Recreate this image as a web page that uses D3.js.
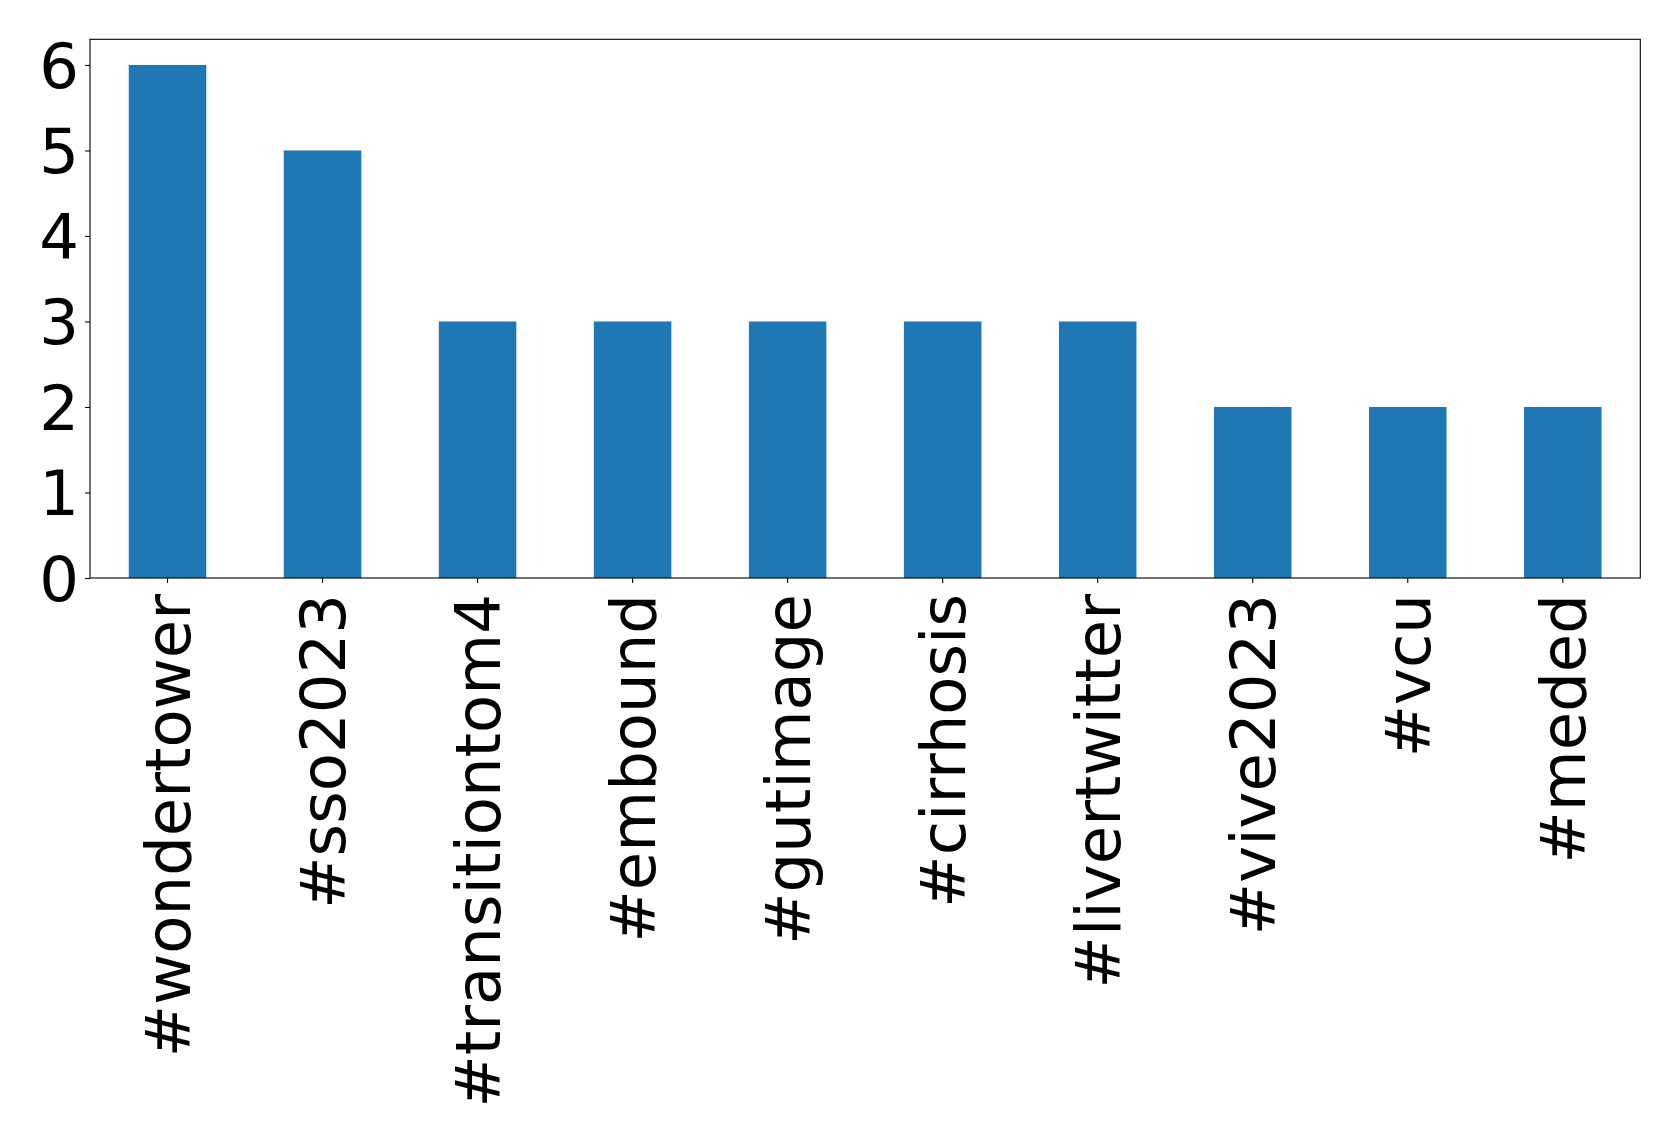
<!DOCTYPE html>
<html><head><meta charset="utf-8">
<script src="https://cdn.jsdelivr.net/npm/d3@7"></script>
<style>body{margin:0;background:#fff}</style>
</head><body>
<svg id="c" width="1679" height="1141"></svg>
<script>
const categories = ["#wondertower","#sso2023","#transitiontom4","#embound","#gutimage","#cirrhosis","#livertwitter","#vive2023","#vcu","#meded"];
const counts = [6,5,3,3,3,3,3,2,2,2];
const yTicks = [0,1,2,3,4,5,6];

const svg = d3.select("#c");
const L = 90, T = 39.3, R = 1640.3, B = 578;
const font = "DejaVu Sans, sans-serif";
const fs = 62.5;

const x = d3.scaleBand().domain(categories).range([L, R]).paddingInner(0.5).paddingOuter(0.25);
const y = d3.scaleLinear().domain([0, 6.3]).range([B, T]);

svg.selectAll("rect.bar").data(counts).enter().append("rect")
  .attr("class","bar")
  .attr("x",(d,i)=>x(categories[i]))
  .attr("width",x.bandwidth())
  .attr("y",d=>y(d))
  .attr("height",d=>B-y(d))
  .attr("fill","#1f77b4");

const yAxis = svg.append("g").attr("transform",`translate(${L},0)`)
  .call(d3.axisLeft(y).tickValues(yTicks).tickFormat(d3.format("d")).tickSize(4.9).tickPadding(6));
yAxis.select(".domain").remove();
yAxis.selectAll("text").attr("font-family",font).attr("font-size",fs).attr("fill","#000").attr("dy","0.36em");
yAxis.selectAll("line").attr("stroke","#000").attr("stroke-width",1.1);

const xAxis = svg.append("g").attr("transform",`translate(0,${B})`)
  .call(d3.axisBottom(x).tickSize(4.9).tickPadding(0));
xAxis.select(".domain").remove();
xAxis.selectAll("line").attr("stroke","#000").attr("stroke-width",1.1);
xAxis.selectAll("text")
  .attr("font-family",font).attr("font-size",fs).attr("fill","#000")
  .attr("text-anchor","end")
  .attr("transform","translate(0,16) rotate(-90)")
  .attr("x",0).attr("y",0).attr("dy","0.36em");

svg.append("rect").attr("x",L).attr("y",T).attr("width",R-L).attr("height",B-T)
  .attr("fill","none").attr("stroke","#000").attr("stroke-width",1.1);
</script>
</body></html>
